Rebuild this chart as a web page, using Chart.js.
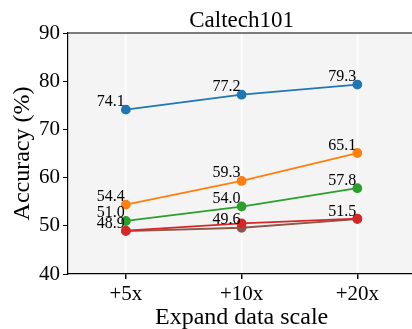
<!DOCTYPE html>
<html>
<head>
<meta charset="utf-8">
<script src="https://cdn.jsdelivr.net/npm/chart.js@4/dist/chart.umd.min.js"></script>
<style>
html,body{margin:0;padding:0;overflow:hidden;background:#fff;width:412px;height:329px;}
canvas{display:block;}
</style>
</head>
<body>
<canvas id="c" width="421" height="329"></canvas>
<script>
const categories = ["+5x", "+10x", "+20x"];
const seriesBlue = [74.1, 77.2, 79.3];
const seriesOrange = [54.4, 59.3, 65.1];
const seriesGreen = [51.0, 54.0, 57.8];
const seriesBrown = [48.9, 49.6, 51.4];
const seriesRed = [49.0, 50.5, 51.5];
const labelsBlue = ["74.1", "77.2", "79.3"];
const labelsOrange = ["54.4", "59.3", "65.1"];
const labelsGreen = ["51.0", "54.0", "57.8"];
const labelsBrown = ["48.9", "49.6", "51.5"];
const yTicks = [40, 50, 60, 70, 80, 90];
const chartTitle = "Caltech101";

const SERIF = "'Liberation Serif', 'DejaVu Serif', serif";

function ds(data, color, labels, order) {
  return {
    data: data, borderColor: color, backgroundColor: color,
    pointBackgroundColor: color, pointBorderColor: color,
    borderWidth: 1.8, pointRadius: 4, pointHoverRadius: 4, tension: 0,
    valueLabels: labels, order: order
  };
}

const bgPlugin = {
  id: 'bg',
  beforeDraw(chart) {
    const a = chart.chartArea, ctx = chart.ctx;
    ctx.save();
    ctx.fillStyle = '#f4f4f4';
    ctx.fillRect(a.left, a.top, a.right - a.left, a.bottom - a.top);
    ctx.restore();
  },
  afterDraw(chart) {
    const a = chart.chartArea, ctx = chart.ctx;
    ctx.save();
    ctx.strokeStyle = '#000';
    ctx.lineWidth = 1.2;
    ctx.beginPath();
    ctx.moveTo(a.left, a.top); ctx.lineTo(a.right, a.top);
    ctx.lineTo(a.right, a.bottom);
    ctx.stroke();
    ctx.font = "23px " + SERIF;
    ctx.fillStyle = '#000';
    ctx.textAlign = 'center';
    ctx.textBaseline = 'alphabetic';
    ctx.fillText(chartTitle, (a.left + a.right) / 2, 27);
    ctx.restore();
  }
};

const labelPlugin = {
  id: 'vlabels',
  afterDatasetsDraw(chart) {
    const ctx = chart.ctx;
    ctx.save();
    ctx.font = "16px " + SERIF;
    ctx.fillStyle = '#000';
    ctx.textAlign = 'right';
    ctx.textBaseline = 'alphabetic';
    chart.data.datasets.forEach((d, i) => {
      if (!d.valueLabels) return;
      const meta = chart.getDatasetMeta(i);
      meta.data.forEach((pt, j) => {
        ctx.fillText(d.valueLabels[j], pt.x - 1, pt.y - 3.5);
      });
    });
    ctx.restore();
  }
};

new Chart(document.getElementById('c'), {
  type: 'line',
  data: {
    labels: categories,
    datasets: [
      ds(seriesBlue, '#1f77b4', labelsBlue, 5),
      ds(seriesOrange, '#ff7f0e', labelsOrange, 4),
      ds(seriesGreen, '#2ca02c', labelsGreen, 3),
      ds(seriesBrown, '#8c564b', labelsBrown, 2),
      ds(seriesRed, '#d62728', null, 1)
    ]
  },
  options: {
    responsive: false,
    animation: false,
    events: [],
    layout: { padding: { left: 0, right: 0, top: 33, bottom: 0 } },
    plugins: {
      legend: { display: false },
      tooltip: { enabled: false },
      title: { display: false }
    },
    scales: {
      x: {
        type: 'category', offset: true,
        grid: { display: true, color: '#ffffff', lineWidth: 1.5, drawTicks: true, tickLength: 5, tickColor: '#000', offset: false },
        border: { display: true, color: '#000', width: 1.2 },
        ticks: { color: '#000', font: { family: SERIF, size: 21 }, padding: 3, maxRotation: 0 },
        title: { display: true, text: 'Expand data scale', color: '#000', font: { family: SERIF, size: 24, lineHeight: 0.9 }, padding: { top: 0, bottom: 0 } },
        afterFit(scale) { scale.height = 55; }
      },
      y: {
        min: 40, max: 90,
        afterBuildTicks(scale) { scale.ticks = yTicks.map(v => ({ value: v })); },
        grid: { display: true, drawOnChartArea: false, drawTicks: true, tickLength: 5, tickColor: '#000' },
        border: { display: true, color: '#000', width: 1.2 },
        ticks: { color: '#000', font: { family: SERIF, size: 21 }, padding: 3 },
        title: { display: true, text: 'Accuracy (%)', color: '#000', font: { family: SERIF, size: 24 }, padding: { top: 8, bottom: 0 } },
        afterFit(scale) { scale.width = 68; }
      }
    }
  },
  plugins: [bgPlugin, labelPlugin]
});
</script>
</body>
</html>
